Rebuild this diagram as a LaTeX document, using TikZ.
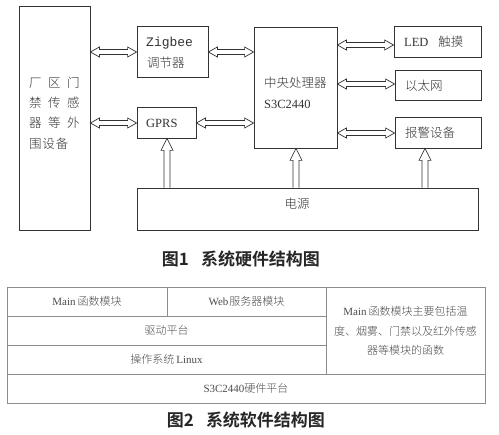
\documentclass[tikz,border=0pt]{standalone}
\usepackage{fontspec}
\setmainfont{Liberation Serif}
\newfontfamily\cjk{Noto Sans CJK SC}[UprightFont={* Light}]
\newfontfamily\cjkb{Noto Sans CJK SC}[UprightFont={* Bold}]
\newfontfamily\mono{Liberation Mono}
\usetikzlibrary{calc}
\definecolor{ink}{gray}{0.2}
\definecolor{tab}{gray}{0.55}
\definecolor{ttxt}{gray}{0.3}
\tikzset{
  box/.style={draw=ink,line width=0.8pt,inner sep=0pt},
  arrline/.style={draw=ink,line width=0.7pt,line join=miter},
  lbl/.style={inner sep=0pt,text=ink,font=\fontsize{12.5}{14}\selectfont},
  cell/.style={draw=tab,line width=0.7pt,inner sep=0pt,text=ttxt,font=\fontsize{11}{13}\selectfont},
  captext/.style={inner sep=0pt,text=black!85,font=\fontsize{17}{20}\selectfont\cjkb}
}
\newcommand\harr[2]{\draw[arrline] let \p1=(#1), \p2=(#2) in
  (\x1,\y1) -- (\x1+9pt,\y1+5pt) -- (\x1+9pt,\y1+2.5pt) -- (\x2-9pt,\y1+2.5pt) -- (\x2-9pt,\y1+5pt)
  -- (\x2,\y1) -- (\x2-9pt,\y1-5pt) -- (\x2-9pt,\y1-2.5pt) -- (\x1+9pt,\y1-2.5pt) -- (\x1+9pt,\y1-5pt) -- cycle;}
\newcommand\uarr[2]{\draw[arrline] let \p1=(#1), \p2=(#2) in
  (\x1-3pt,\y1) -- (\x1-3pt,\y2-12pt) -- (\x1-6pt,\y2-12pt) -- (\x1,\y2) -- (\x1+6pt,\y2-12pt)
  -- (\x1+3pt,\y2-12pt) -- (\x1+3pt,\y1);}
\begin{document}
\begin{tikzpicture}[x=1pt,y=-1pt]
\useasboundingbox[fill=white] (0,0) rectangle (499,435);
% boxes
\node[box,minimum width=71,minimum height=224] (L) at (54.5,118) {};
\node[box,minimum width=71,minimum height=51] (Z) at (172.5,51.5) {};
\node[box,minimum width=59,minimum height=31] (G) at (166.5,122.5) {};
\node[box,minimum width=341,minimum height=42] (P) at (307.5,209) {};
\node[box,minimum width=83,minimum height=121] (C) at (295.5,87.5) {};
\node[box,minimum width=87,minimum height=31] (LED) at (437.5,41.5) {};
\node[box,minimum width=86,minimum height=30] (E) at (438,85) {};
\node[box,minimum width=86,minimum height=31] (A) at (438,132.5) {};
% texts
\node[lbl,anchor=west] (l1) at (29,83) {\cjk 厂\hspace{6.5pt}区\hspace{6.5pt}门};
\node[lbl,anchor=west] (l2) at (29,103) {\cjk 禁\hspace{6.5pt}传\hspace{6.5pt}感};
\node[lbl,anchor=west] (l3) at (29,123) {\cjk 器\hspace{6.5pt}等\hspace{6.5pt}外};
\node[lbl,anchor=west] (l4) at (29,144) {\cjk 围\hspace{0.8pt}设\hspace{0.8pt}备};
\node[lbl,anchor=west] (z1) at (146,43) {\mono\fontsize{13}{14}\selectfont Zigbee};
\node[lbl,anchor=west] (z2) at (147,63) {\cjk 调节器};
\node[lbl,anchor=west] (g1) at (146,123) {GPRS};
\node[lbl,anchor=west] (c1) at (264,83) {\cjk 中央处理器};
\node[lbl,anchor=west] (c2) at (264,104) {S3C2440};
\node[lbl,anchor=west] (t1) at (404,42) {LED\hspace{10pt}{\cjk 触摸}};
\node[lbl,anchor=west] (t2) at (405,86) {\cjk 以太网};
\node[lbl,anchor=west] (t3) at (405,133) {\cjk 报警设备};
\node[lbl] (p1) at (297,204) {\cjk 电源};
% arrows
\coordinate (ya) at (0,52);
\coordinate (yb) at (0,123);
\coordinate (yc) at (0,45);
\coordinate (yd) at (0,84);
\coordinate (ye) at (0,133);
\coordinate (xa) at (167,0);
\coordinate (xb) at (296,0);
\coordinate (xc) at (425,0);
\harr{L.east |- ya}{Z.west |- ya}
\harr{Z.east |- ya}{C.west |- ya}
\harr{L.east |- yb}{G.west |- yb}
\harr{G.east |- yb}{C.west |- yb}
\harr{C.east |- yc}{LED.west |- yc}
\harr{C.east |- yd}{E.west |- yd}
\harr{C.east |- ye}{A.west |- ye}
\uarr{P.north -| xa}{G.south -| xa}
\uarr{P.north -| xb}{C.south -| xb}
\uarr{P.north -| xc}{A.south -| xc}
% caption 1
\node[captext] (cap1) at (241,259) {图1\hspace{12pt}系统硬件结构图};
% table
\node[cell,minimum width=160,minimum height=29] (m1) at (87,301.5) {Main\hspace{2pt}{\cjk 函数模块}};
\node[cell,minimum width=159,minimum height=29] (m2) at (246.5,301.5) {Web\hspace{1pt}{\cjk 服务器模块}};
\node[cell,minimum width=319,minimum height=29] (m3) at (166.5,330.5) {\cjk 驱动平台};
\node[cell,minimum width=319,minimum height=29] (m4) at (166.5,359.5) {{\cjk 操作系统}\hspace{2pt}Linux};
\node[cell,minimum width=159,minimum height=87] (m5) at (405.5,330.5) {};
\node[cell,minimum width=478,minimum height=29] (m6) at (246,388.5) {S3C2440{\cjk 硬件平台}};
\node[cell,draw=none,align=center,font=\fontsize{11}{19.5}\selectfont] (m5t) at (405.5,331)
  {Main\hspace{2pt}{\cjk 函数模块主要包括温}\\{\cjk 度、烟雾、门禁以及红外传感}\\{\cjk 器等模块的函数}};
% caption 2
\node[captext] (cap2) at (246,420) {图2\hspace{12pt}系统软件结构图};
\end{tikzpicture}
\end{document}
